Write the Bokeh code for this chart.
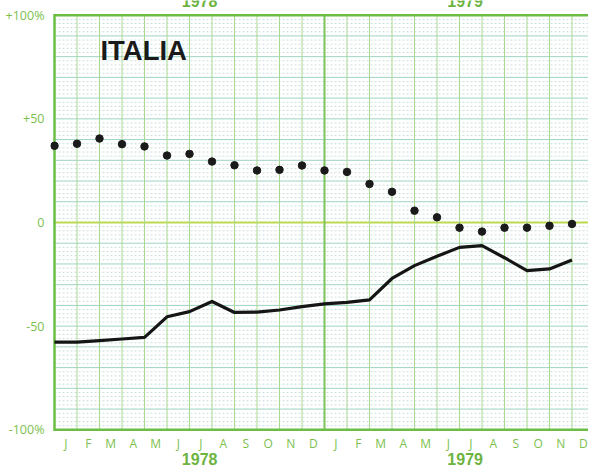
from bokeh.plotting import figure
from bokeh.models import FixedTicker, LinearAxis, Range1d
from bokeh.core.properties import value
from bokeh.embed import file_html
from bokeh.resources import INLINE

# ---- data ----
months = ["J", "F", "M", "A", "M", "J", "J", "A", "S", "O", "N", "D",
          "J", "F", "M", "A", "M", "J", "J", "A", "S", "O", "N", "D"]
years = ["1978", "1979"]
punti = [37.0, 38.0, 40.5, 37.8, 36.7, 32.3, 33.1, 29.4, 27.6, 25.1, 25.4, 27.5,
         25.1, 24.4, 18.6, 14.8, 5.7, 2.5, -2.5, -4.4, -2.5, -2.5, -1.6, -0.7]
linea = [-57.7, -57.7, -57.0, -56.2, -55.4, -45.5, -43.0, -38.1, -43.4, -43.2, -42.2, -40.6,
         -39.3, -38.5, -37.3, -27.0, -20.8, -16.3, -12.0, -11.2, -17.0, -23.2, -22.4, -18.1]
y_ticks = [100, 50, 0, -50, -100]
y_labels = ["+100%", "+50", "0", "-50", "-100%"]
title = "ITALIA"

GREEN = "#6cbd45"
TXT = "#7cbf4e"
FONT = "Open Sans"

n = len(months)
xs = list(range(n))
PX = 22.5                       # pixels per month
X0, X1 = -4 / PX, (588 - 54) / PX
YMIN, YMAX = -100, 100
Y_MONTH = -106.6     # row of month letters
Y_YEAR = -114.3      # row of year labels
Y_TOPYEAR = 106.9    # year labels of the panel above (cut off)

p = figure(width=588, height=467, x_range=Range1d(X0, X1), y_range=Range1d(-118.19, 107.09),
           x_axis_type=None, y_axis_type=None,
           output_backend="svg", toolbar_location=None,
           min_border_left=50, min_border_right=0, min_border_top=0, min_border_bottom=0,
           outline_line_color=None, background_fill_color="white", border_fill_color="white")

# horizontal grid lines inside the panel
minor = [v for v in range(-98, 100, 2) if v % 10 != 0]
major = [v for v in range(-90, 100, 10) if v != 0]
p.segment(x0=[0] * len(minor), y0=minor, x1=[X1] * len(minor), y1=minor,
          line_color="#c9e0da", line_width=1, line_dash="2 2", level="underlay")
p.segment(x0=[0] * len(major), y0=major, x1=[X1] * len(major), y1=major,
          line_color="#9ed3c6", line_width=1, level="underlay")
p.segment(x0=[0], y0=[0], x1=[X1], y1=[0], line_color="#bcd94e", line_width=2, level="underlay")

# vertical month lines inside the panel
vx = [i for i in range(1, n + 1) if i != n // 2]
p.segment(x0=vx, y0=[YMIN] * len(vx), x1=vx, y1=[YMAX] * len(vx),
          line_color="#a9d98f", line_width=1, level="underlay")
p.segment(x0=[n // 2], y0=[YMIN], x1=[n // 2], y1=[YMAX],
          line_color="#7dc35b", line_width=2, level="underlay")

# panel frame
p.segment(x0=[0, 0], y0=[YMAX, YMIN], x1=[X1, X1], y1=[YMAX, YMIN],
          line_color=GREEN, line_width=2.5)
p.segment(x0=[0], y0=[YMIN - 0.6], x1=[0], y1=[YMAX + 0.6], line_color=GREEN, line_width=2.5)

# left axis (labels only)
yax = LinearAxis(ticker=FixedTicker(ticks=y_ticks),
                 major_label_overrides=dict(zip(y_ticks, y_labels)),
                 axis_line_color=None,
                 major_tick_line_color=None, minor_tick_line_color=None,
                 major_label_standoff=0, major_label_text_color=TXT,
                 major_label_text_font=FONT, major_label_text_font_size="12.5px")
p.add_layout(yax, "left")

# month letters and year labels
p.text(x=[i + 0.5 for i in range(n)], y=[Y_MONTH] * n, text=months,
       text_align="center", text_baseline="middle", text_color=TXT,
       text_font=value(FONT), text_font_size="12px")
p.text(x=[6.45, 18.25], y=[Y_YEAR] * 2, text=years,
       text_align="center", text_baseline="middle", text_color="#6db33f",
       text_font=value("Liberation Sans"), text_font_style="bold", text_font_size="16px")
p.text(x=[6.45, 18.25], y=[Y_TOPYEAR] * 2, text=years,
       text_align="center", text_baseline="middle", text_color="#6db33f",
       text_font=value("Liberation Sans"), text_font_style="bold", text_font_size="16px")

# data
p.line(xs, linea, line_color="#151515", line_width=3.2, line_join="round")
p.scatter(xs, punti, size=7.5, fill_color="#1a1a1a", line_color="#1a1a1a")

p.text(x=[2.04], y=[83.2], text=[title], text_baseline="middle",
       text_font=value("Liberation Sans"), text_font_style="bold",
       text_font_size="27.5px", text_color="#1a1a1a")

open("out.html", "w").write(file_html(p, INLINE))
